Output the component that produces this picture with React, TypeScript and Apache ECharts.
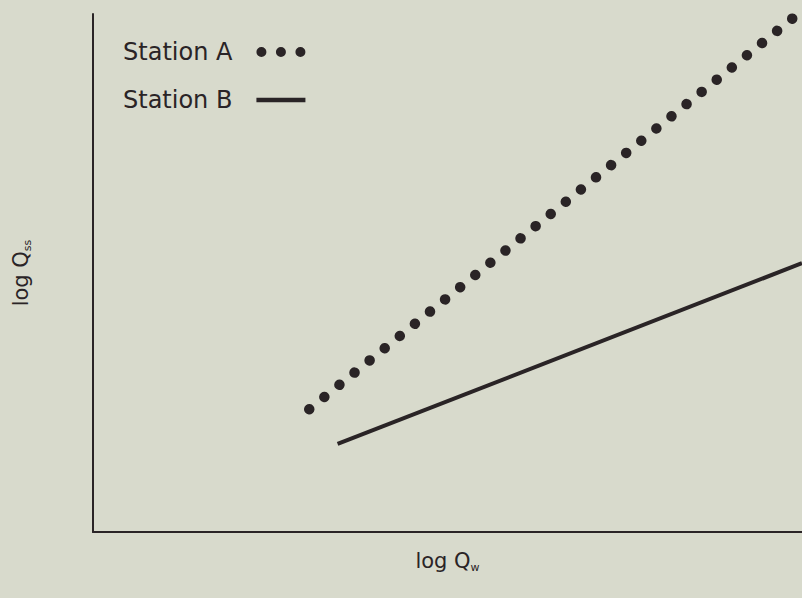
import React, { useEffect, useRef } from "react";
import * as echarts from "echarts";

// Axis ranges (arbitrary log-scale units, no ticks shown)
const xRange = [0, 100];
const yRange = [0, 100];

// Station A: fitted rating line (drawn as a dotted line)
const stationA: [number, number][] = [
  [30.5, 23.7],
  [98.8, 99.3],
];

// Station B: fitted rating line (solid)
const stationB: [number, number][] = [
  [34.5, 17.0],
  [100, 51.9],
];

const seriesNames = ["Station A", "Station B"];

const INK = "#2a2426";
const FONT = "DejaVu Sans";

const DOTS_ICON =
  "path://M5,0A5,5,0,1,1,5,10A5,5,0,1,1,5,0Z M24.5,0A5,5,0,1,1,24.5,10A5,5,0,1,1,24.5,0Z M44,0A5,5,0,1,1,44,10A5,5,0,1,1,44,0Z";
const LINE_ICON = "path://M0,0H46V4H0Z";

export default function App() {
  const ref = useRef<HTMLDivElement>(null);

  useEffect(() => {
    if (!ref.current) return;
    const chart = echarts.init(ref.current, undefined, { renderer: "svg" });
    const nameRich = {
      a: { fontFamily: FONT, fontSize: 21, color: INK },
      b: { fontFamily: FONT, fontSize: 11, color: INK, padding: [14, 0, 0, 0] },
    };
    chart.setOption({
      animation: false,
      backgroundColor: "#d8dacc",
      grid: { left: 93, right: 0, top: 14, bottom: 66, containLabel: false },
      legend: {
        orient: "vertical",
        left: 123,
        top: 40,
        padding: 0,
        itemGap: 24,
        align: "right",
        itemWidth: 49,
        itemHeight: 10,
        selectedMode: false,
        textStyle: {
          fontFamily: FONT,
          fontSize: 24,
          color: INK,
          padding: [0, 19, 0, 0],
        },
        data: [
          { name: seriesNames[0], icon: DOTS_ICON },
          { name: seriesNames[1], icon: LINE_ICON },
        ],
      },
      xAxis: {
        type: "value",
        min: xRange[0],
        max: xRange[1],
        name: "{a|log Q}{b|w}",
        nameLocation: "middle",
        nameGap: 16,
        nameTextStyle: { rich: nameRich },
        axisLine: { show: true, lineStyle: { color: INK, width: 2 } },
        axisTick: { show: false },
        axisLabel: { show: false },
        splitLine: { show: false },
      },
      yAxis: {
        type: "value",
        min: yRange[0],
        max: yRange[1],
        name: "{a|log Q}{b|ss}",
        nameLocation: "middle",
        nameRotate: 90,
        nameGap: 60,
        nameTextStyle: { rich: nameRich },
        axisLine: { show: true, lineStyle: { color: INK, width: 2 } },
        axisTick: { show: false },
        axisLabel: { show: false },
        splitLine: { show: false },
      },
      series: [
        {
          name: seriesNames[0],
          type: "line",
          data: stationA,
          showSymbol: false,
          symbol: "none",
          clip: false,
          color: INK,
          lineStyle: {
            color: INK,
            width: 10.5,
            type: [0.01, 19.4],
            cap: "round",
          },
        },
        {
          name: seriesNames[1],
          type: "line",
          data: stationB,
          showSymbol: false,
          symbol: "none",
          color: INK,
          lineStyle: { color: INK, width: 4, cap: "butt" },
        },
      ],
    });
    return () => chart.dispose();
  }, []);

  return (
    <div
      ref={ref}
      style={{ position: "fixed", left: 0, top: 0, width: 802, height: 598 }}
    />
  );
}
